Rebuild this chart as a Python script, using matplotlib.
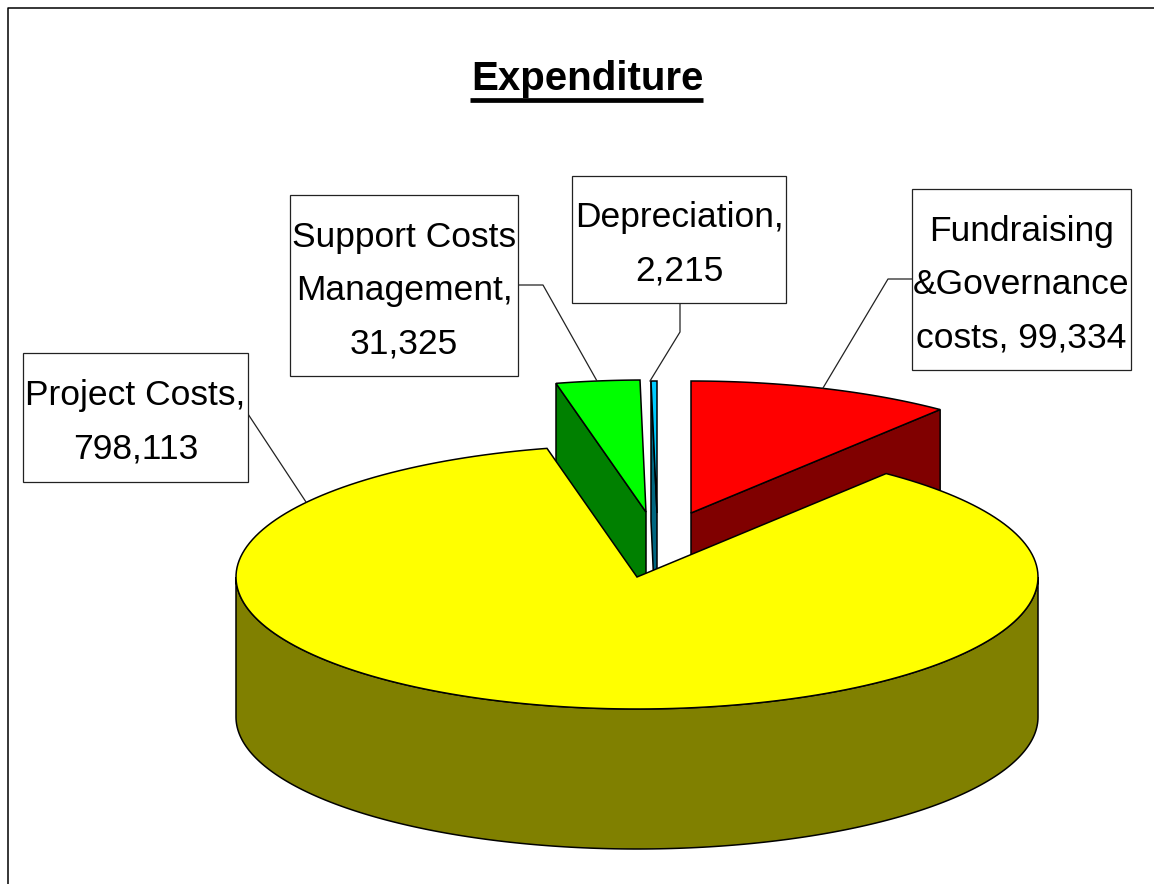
import numpy as np
import matplotlib
matplotlib.use("Agg")
import matplotlib.pyplot as plt
from matplotlib.patches import Polygon, Rectangle

plt.rcParams['font.family'] = ['Liberation Sans', 'DejaVu Sans']

# Chart data, in drawing order (clockwise from 12 o'clock)
categories = ['Fundraising\n&Governance\ncosts', 'Project Costs', 'Support Costs\nManagement', 'Depreciation']
values = [99334, 798113, 31325, 2215]
title = 'Expenditure'

# one colour pair per slice: top face, cut/rim
top_colors = ['#FF0000', '#FFFF00', '#00FF00', '#00CCFF']
side_colors = ['#800000', '#808000', '#008000', '#006680']

# layout, all in image pixels
RX, RY, DEPTH = 401, 132, 140
tips = [(691, 513), (637, 577), (646, 512), (657, 513)]
boxes = [(912, 189, 219, 181), (23, 353, 225, 129), (290, 195, 228, 181), (572, 176, 214, 127)]
leaders = [[(912, 279), (888, 279), (823, 388)],
           [(248, 414), (306, 502)],
           [(518, 285), (543, 285), (597, 381)],
           [(680, 303), (680, 332), (650, 381)]]
label_seps = [', ', ',\n', ',\n', ',\n']


def rim_points(tip, t0, t1, n=200):
    # clockwise angle in degrees, 0 is straight up
    t = np.radians(np.linspace(t0, t1, n))
    return np.column_stack([tip[0] + RX * np.sin(t), tip[1] - RY * np.cos(t)])


def draw_slice(ax, tip, t0, t1, top, side, z):
    rim = rim_points(tip, t0, t1)
    drop = np.array([0, DEPTH])
    tip = np.array(tip, dtype=float)
    # only the cut face turned to the viewer shows
    p = rim[-1] if (t0 + t1) / 2 < 180 else rim[0]
    ax.add_patch(Polygon([tip, p, p + drop, tip + drop], fc=side, ec='k', lw=1.1, zorder=z))
    ax.add_patch(Polygon(np.vstack([tip, rim]), fc=top, ec='k', lw=1.1, zorder=z + 0.5))


fig = plt.figure(figsize=(11.54, 8.84), dpi=100)
ax = fig.add_axes([0, 0, 1, 1])
ax.set_xlim(0, 1154)
ax.set_ylim(884, 0)
ax.axis('off')

# page frame, cropped on the right and at the bottom
ax.plot([8, 8, 1154], [884, 8, 8], color='k', lw=1.1, zorder=1)

angles = np.cumsum([0] + values) / np.sum(values) * 360
order = [3, 2, 0, 1]  # the big slice goes last, it sits in front
for z, i in enumerate(order):
    # the big slice only has its front rim showing
    if i == 1:
        rim_top = rim_points(tips[i], 90, 270)
        ax.add_patch(Polygon(np.vstack([rim_top, (rim_top + [0, DEPTH])[::-1]]),
                             fc=side_colors[i], ec='k', lw=1.1, zorder=10))
        top_rim = rim_points(tips[i], angles[i], angles[i + 1])
        ax.add_patch(Polygon(np.vstack([tips[i], top_rim]), fc=top_colors[i], ec='k', lw=1.1, zorder=11))
    else:
        draw_slice(ax, tips[i], angles[i], angles[i + 1], top_colors[i], side_colors[i], 3 + z)

for i in range(len(values)):
    x, y, w, h = boxes[i]
    ax.add_patch(Rectangle((x, y), w, h, fc='white', ec='#222222', lw=0.9, zorder=20))
    pts = np.array(leaders[i])
    ax.plot(pts[:, 0], pts[:, 1], color='#222222', lw=0.9, zorder=15)
    text = categories[i] + label_seps[i] + f'{values[i]:,}'
    ax.text(x + w / 2, y + h / 2 + 5, text, ha='center', va='center', fontsize=25.5,
            color='k', linespacing=1.77, zorder=21)

ax.text(587, 90, title, ha='center', va='baseline', fontsize=29, fontweight='bold', color='k')
ax.plot([470, 703], [100, 100], color='k', lw=3.4, solid_capstyle='butt')

fig.savefig('out.png', dpi=100)
